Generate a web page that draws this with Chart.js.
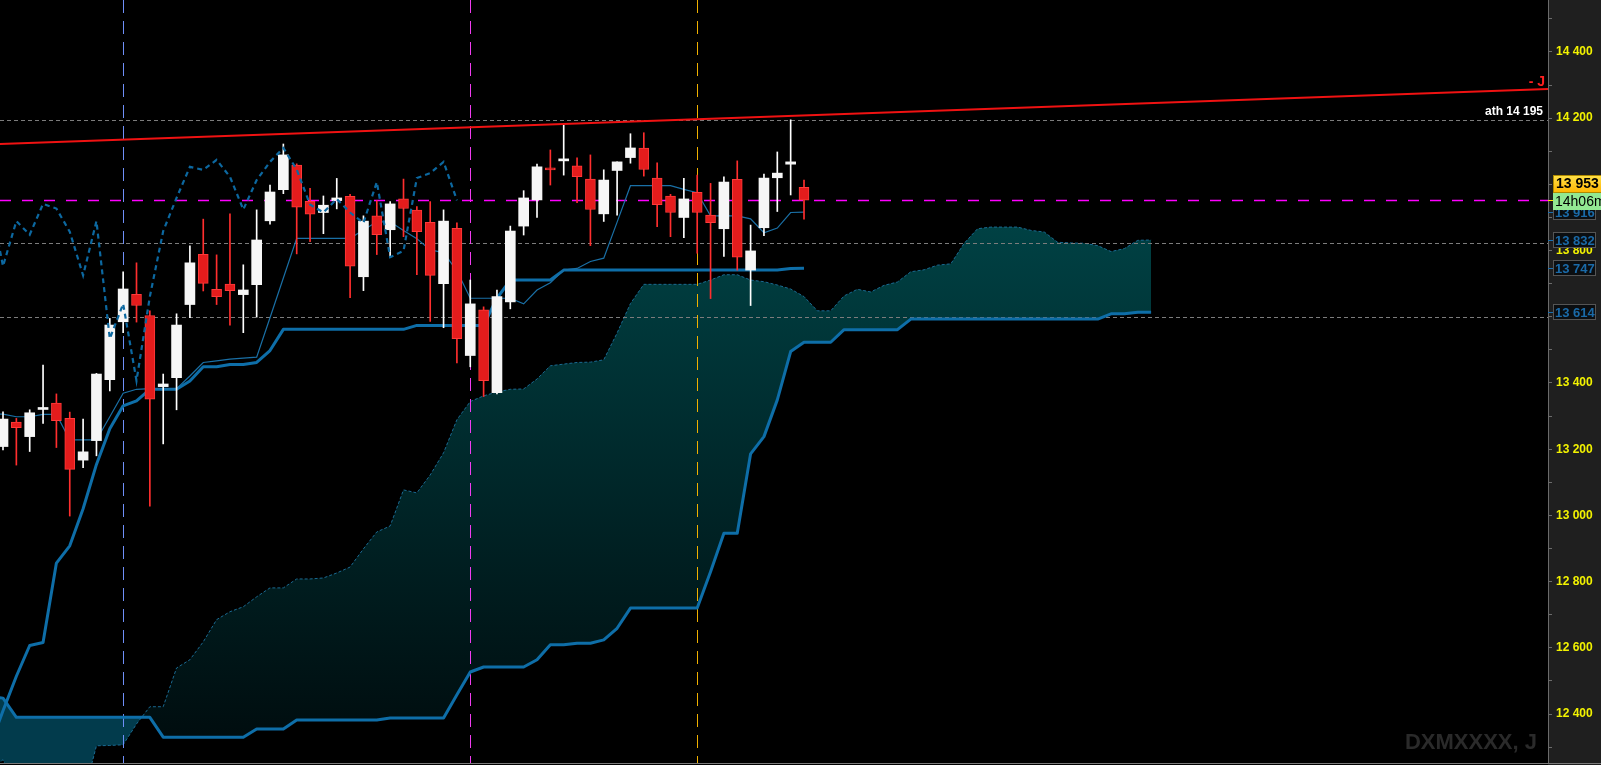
<!DOCTYPE html>
<html><head><meta charset="utf-8">
<script src="https://cdn.jsdelivr.net/npm/chart.js@4/dist/chart.umd.min.js"></script>
<style>html,body{margin:0;padding:0;background:#000;overflow:hidden}canvas{display:block}</style>
</head><body>
<canvas id="c" width="1601" height="765"></canvas>
<script>
// ---- data (bar index 0..60, cloud projected 26 bars forward) ----
const OPEN = [13208,13282,13238,13320,13339,13293,13167,13226,13410,13585,
 13668,13604,13389,13416,13637,13789,13683,13699,13667,13697,
 13890,13984,14058,13949,13915,13951,13964,13721,13905,13863,
 13956,13922,13885,13700,13867,13483,13621,13371,13645,13874,
 13953,14050,14071,14056,14016,13911,14042,14081,14110,14019,
 13965,13900,13976,13907,13866,14015,13741,13869,14020,14061,
 13991];
const HIGH = [13313,13293,13319,13454,13367,13312,13291,13429,13595,13736,
 13763,13618,13427,13609,13814,13895,13787,13911,13757,13923,
 13998,14122,14062,13988,13965,14018,13970,13905,13951,13948,
 14016,13933,13948,13923,13884,13711,13630,13681,13874,13981,
 14061,14104,14179,14080,14089,14044,14068,14153,14156,14065,
 13970,14018,14028,14003,14023,14071,13877,14031,14098,14195,
 14013];
const LOW = [13198,13152,13193,13278,13205,12998,13144,13180,13376,13552,
 13584,13028,13216,13319,13597,13678,13637,13575,13552,13599,
 13880,13972,13790,13827,13851,13926,13658,13679,13788,13782,
 13842,13727,13586,13567,13461,13449,13359,13367,13624,13847,
 13900,13998,14028,13945,13815,13888,13907,14064,14025,13872,
 13842,13839,13792,13655,13782,13741,13634,13845,13918,13968,
 13895];
const CLOSE = [13291,13265,13310,13326,13286,13139,13192,13427,13575,13684,
 13634,13351,13397,13575,13763,13701,13661,13679,13681,13832,
 13977,14089,13931,13910,13937,13959,13753,13889,13848,13941,
 13927,13857,13725,13889,13534,13639,13407,13661,13859,13959,
 14053,14044,14074,14023,13924,14013,14068,14110,14045,13939,
 13915,13956,13915,13884,14007,13780,13799,14019,14034,14068,
 13952];
// lines start at bar index -1 (just left of the visible area)
const LINE_START = -1;
const TENKAN = [13306,13306,13298,13298,13305,13305,13228,13228,13228,13298,13369,
 13381,13383,13383,13383,13421,13462,13467,13472,13475,13478,
 13597,13717,13837,13837,13837,13837,13837,13862,13887,13887,
 13861,13836,13802,13794,13739,13656,13656,13656,13656,13639,
 13681,13703,13741,13746,13767,13777,13886,13996,13996,13996,
 13996,13985,13975,13905,13905,13905,13896,13854,13868,13915,
 13916];
const KIJUN = [12300,12410,12514,12607,12616,12856,12908,13020,13154,13262,13331,
 13346,13381,13381,13381,13406,13449,13449,13456,13456,13462,
 13498,13562,13562,13562,13562,13562,13562,13562,13562,13562,
 13562,13574,13574,13574,13574,13574,13574,13656,13711,13711,
 13711,13711,13741,13741,13741,13741,13741,13741,13741,13741,
 13741,13741,13741,13741,13741,13741,13741,13741,13741,13746,
 13747];
const SENKOU_A = [12230,12262,12180,12170,12170,12170,12170,12150,12304,12305,12307,
 12370,12422,12422,12539,12564,12618,12685,12709,12724,12754,
 12781,12781,12808,12808,12811,12826,12844,12899,12950,12968,
 13077,13068,13122,13189,13289,13344,13361,13373,13381,13382,
 13412,13452,13457,13462,13463,13470,13551,13640,13698,13698,
 13698,13698,13698,13711,13727,13727,13711,13706,13696,13684,
 13661,13618,13618,13663,13683,13675,13695,13705,13736,13742,
 13756,13760,13822,13866,13871,13871,13871,13861,13856,13825,
 13823,13822,13815,13797,13806,13831,13832];
const SENKOU_B = [12452,12448,12390,12390,12390,12390,12390,12390,12390,12390,12390,
 12390,12390,12330,12330,12330,12330,12330,12330,12330,12355,
 12355,12355,12382,12382,12382,12382,12382,12382,12382,12388,
 12388,12388,12388,12388,12458,12527,12542,12542,12542,12542,
 12564,12609,12609,12614,12614,12624,12659,12720,12720,12720,
 12720,12720,12720,12830,12946,12946,13186,13238,13349,13495,
 13523,13523,13523,13561,13561,13561,13561,13561,13593,13593,
 13593,13593,13593,13593,13593,13593,13593,13593,13593,13593,
 13593,13593,13593,13609,13609,13614,13614];
const CHIKOU_SHIFT = 26;
const TREND = [{x:-1, y:14121}, {x:117, y:14290}];
const LAST_PRICE = 13953;
const TIMER_TEXT = '14h06m';
const ATH = 14195;
const H_LEVELS = [14195, 13822, 13600];
const V_MARKS = [9, 35, 52];
const V_COLORS = ['#6f8ff8', '#f03cf0', '#f0b000'];
const TAGS = [13916, 13832, 13747, 13614];
const Y_TICKS = [12300,12400,12500,12600,12700,12800,12900,13000,13100,13200,13300,13400,
 13500,13600,13700,13800,13900,14000,14100,14200,14300,14400,14500];
const Y_LABELS = ['', '12 400', '', '12 600', '', '12 800', '', '13 000', '', '13 200', '', '13 400',
 '', '13 600', '', '13 800', '', '14 000', '', '14 200', '', '14 400', ''];
const Y_MIN = 12252, Y_MAX = 14557;
const X_MIN = -0.225, X_MAX = 115.73;
const WATERMARK = 'DXMXXXX, J';

// ---- helpers ----
const fmt = v => { const s = String(Math.round(v)); return s.slice(0, -3) + ' ' + s.slice(-3); };
const pts = (arr, start) => arr.map((v, k) => ({x: start + k, y: v}));
const bull = CLOSE.map((c, i) => c >= OPEN[i]);
const FONT = '"Liberation Sans", Arial, sans-serif';

const canvas = document.getElementById('c');
const ctx0 = canvas.getContext('2d');
const cloudGrad = ctx0.createLinearGradient(0, 0, 0, 765);
cloudGrad.addColorStop(0, 'rgb(0,88,91)');
cloudGrad.addColorStop(1, 'rgb(0,10,12)');

const decor = {
  id: 'decor',
  beforeDraw(chart) {
    const {ctx, chartArea: a, width, height} = chart;
    ctx.save();
    ctx.fillStyle = '#000';
    ctx.fillRect(0, 0, width, height);
    ctx.fillStyle = '#1f1f1f';
    ctx.fillRect(a.right, 0, width - a.right, height);
    ctx.restore();
  },
  afterDatasetDraw(chart, args) {
    if (args.index !== 0) return;
    const {ctx, chartArea: a, scales: {x, y}} = chart;
    ctx.save();
    ctx.beginPath(); ctx.rect(a.left, a.top, a.right - a.left, a.bottom - a.top); ctx.clip();
    ctx.strokeStyle = '#7c7c7c'; ctx.lineWidth = 1; ctx.setLineDash([4, 3]);
    H_LEVELS.forEach(v => { const py = Math.round(y.getPixelForValue(v)) + 0.5;
      ctx.beginPath(); ctx.moveTo(a.left, py); ctx.lineTo(a.right, py); ctx.stroke(); });
    ctx.setLineDash([13, 8]);
    V_MARKS.forEach((m, k) => { const px = Math.round(x.getPixelForValue(m)) + 0.5;
      ctx.strokeStyle = V_COLORS[k];
      ctx.beginPath(); ctx.moveTo(px, a.top); ctx.lineTo(px, a.bottom); ctx.stroke(); });
    ctx.strokeStyle = '#ff00ff'; ctx.lineWidth = 1.5; ctx.setLineDash([11, 11]);
    const ly = Math.round(y.getPixelForValue(LAST_PRICE)) + 0.5;
    ctx.beginPath(); ctx.moveTo(a.left, ly); ctx.lineTo(a.right, ly); ctx.stroke();
    ctx.restore();
  },
  afterDraw(chart) {
    const {ctx, chartArea: a, width, scales: {y}} = chart;
    ctx.save();
    ctx.fillStyle = '#7a7a7a';
    ctx.fillRect(0, a.bottom, width, 1);
    ctx.textAlign = 'right'; ctx.textBaseline = 'alphabetic';
    ctx.font = 'bold 12px ' + FONT; ctx.fillStyle = '#ffffff';
    ctx.fillText('ath ' + fmt(ATH), a.right - 5, y.getPixelForValue(ATH) - 5);
    ctx.font = 'bold 14px ' + FONT; ctx.fillStyle = '#ff2020';
    ctx.fillText('- J', a.right - 3, y.getPixelForValue(TREND[1].y) - 2);
    ctx.font = 'bold 22px ' + FONT; ctx.fillStyle = '#2a2a2a';
    ctx.fillText(WATERMARK, a.right - 11, a.bottom - 14);
    ctx.textAlign = 'left'; ctx.textBaseline = 'middle';
    TAGS.forEach(v => {
      const py = Math.round(y.getPixelForValue(v));
      ctx.fillStyle = '#1a6fb0'; ctx.fillRect(a.right, py, 5, 1);
      ctx.fillStyle = '#0b0e11'; ctx.fillRect(a.right + 5, py - 8, 43, 16);
      ctx.strokeStyle = '#555'; ctx.lineWidth = 1; ctx.setLineDash([]);
      ctx.strokeRect(a.right + 5.5, py - 7.5, 42, 15);
      ctx.font = 'bold 13px ' + FONT; ctx.fillStyle = '#1a6aa8';
      ctx.fillText(fmt(v), a.right + 7, py + 1);
    });
    const lp = Math.round(y.getPixelForValue(LAST_PRICE));
    const g = ctx.createLinearGradient(0, lp - 25, 0, lp - 7);
    g.addColorStop(0, '#ffe24a'); g.addColorStop(1, '#ffb400');
    ctx.fillStyle = g; ctx.fillRect(a.right + 5, lp - 25, width - a.right - 5, 18);
    ctx.strokeStyle = '#b08a00'; ctx.strokeRect(a.right + 5.5, lp - 24.5, width - a.right - 5, 17);
    ctx.fillStyle = '#000'; ctx.font = 'bold 14px ' + FONT;
    ctx.fillText(fmt(LAST_PRICE), a.right + 8, lp - 15.5);
    ctx.fillStyle = '#92e892'; ctx.fillRect(a.right + 5, lp - 7, width - a.right - 5, 17);
    ctx.fillStyle = '#000'; ctx.font = '14px ' + FONT;
    ctx.fillText(TIMER_TEXT, a.right + 7, lp + 2);
    ctx.fillStyle = '#ffe000'; ctx.fillRect(a.right, lp, 5, 1);
    ctx.restore();
  }
};

new Chart(canvas, {
  data: {
    datasets: [
      { type: 'line', label: 'Senkou A', data: pts(SENKOU_A, LINE_START), order: 10,
        borderColor: '#1a6a92', borderWidth: 1, borderDash: [3, 2], pointRadius: 0, tension: 0,
        fill: { target: 1, above: cloudGrad, below: '#023b4c' } },
      { type: 'line', label: 'Senkou B', data: pts(SENKOU_B, LINE_START), order: 9,
        borderColor: '#0e6ea8', borderWidth: 3, pointRadius: 0, tension: 0, fill: false, borderJoinStyle: 'round' },
      { type: 'line', label: 'Kijun', data: pts(KIJUN, LINE_START), order: 8,
        borderColor: '#0e6ea8', borderWidth: 3, pointRadius: 0, tension: 0, fill: false, borderJoinStyle: 'round' },
      { type: 'line', label: 'Tenkan', data: pts(TENKAN, LINE_START), order: 7,
        borderColor: '#1a70a6', borderWidth: 1.2, pointRadius: 0, tension: 0, fill: false },
      { type: 'bar', label: 'Wicks', data: LOW.map((l, i) => ({x: i, y: [l, HIGH[i]]})), order: 6,
        grouped: false, barThickness: 1, minBarLength: 1, borderWidth: 0,
        backgroundColor: bull.map(b => b ? '#ffffff' : '#ff2e2e') },
      { type: 'bar', label: 'Bodies', data: OPEN.map((o, i) => ({x: i, y: [o, CLOSE[i]]})), order: 5,
        grouped: false, barThickness: 10, minBarLength: 2, borderSkipped: false,
        backgroundColor: bull.map(b => b ? '#f6f6f6' : '#e41c1c'),
        borderColor: bull.map(b => b ? '#f6f6f6' : '#ff3a3a'),
        borderWidth: bull.map(b => b ? 0 : 1) },
      { type: 'line', label: 'Chikou', data: CLOSE.slice(CHIKOU_SHIFT + LINE_START).map((c, k) => ({x: LINE_START + k, y: c})), order: 4,
        borderColor: '#0c68a0', borderWidth: 2.2, borderDash: [5, 4], pointRadius: 0, tension: 0, fill: false },
      { type: 'line', label: 'Trend', data: TREND, order: 3,
        borderColor: '#f01212', borderWidth: 2, pointRadius: 0, fill: false }
    ]
  },
  options: {
    responsive: false, devicePixelRatio: 1, animation: false, events: [],
    layout: { padding: { left: 0, top: 0, right: 0, bottom: 2 } },
    plugins: { legend: { display: false }, tooltip: { enabled: false } },
    scales: {
      x: { type: 'linear', display: false, min: X_MIN, max: X_MAX, offset: false, grid: { display: false } },
      y: { type: 'linear', position: 'right', min: Y_MIN, max: Y_MAX,
        afterBuildTicks: s => { s.ticks = Y_TICKS.map(v => ({value: v})); },
        afterFit: s => { s.width = 53; s.paddingTop = 0; s.paddingBottom = 0; },
        border: { display: true, color: '#6b6b6b', width: 1 },
        grid: { drawOnChartArea: false, color: '#6b6b6b', tickLength: 4, offset: false },
        ticks: { autoSkip: false, padding: 4,
          color: '#f2f200', font: { family: FONT, weight: 'bold', size: 12 },
          callback: (v, i) => Y_LABELS[Y_TICKS.indexOf(v)] || '' } }
    }
  },
  plugins: [decor]
});
</script>
</body></html>
